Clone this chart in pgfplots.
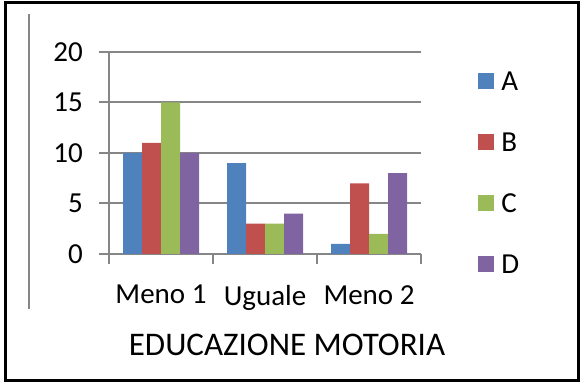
\documentclass[border=0pt]{standalone}
\usepackage{pgfplots}
\pgfplotsset{compat=1.18}
\usepackage{fontspec}
\setmainfont{Carlito}
\definecolor{cA}{RGB}{79,129,189}
\definecolor{cB}{RGB}{192,80,77}
\definecolor{cC}{RGB}{155,187,89}
\definecolor{cD}{RGB}{128,100,162}
\definecolor{axgray}{RGB}{134,134,134}
\begin{document}
\begin{tikzpicture}
\useasboundingbox (0,0) rectangle (584bp,388bp);
\draw[line width=3bp] (5bp,7bp) rectangle (578bp,385bp);
\draw[line width=2bp, color=axgray] (29bp,79bp) -- (29bp,374bp);
\begin{axis}[
  at={(109bp,134bp)}, anchor=south west,
  scale only axis, width=312bp, height=202bp,
  xmin=-0.5, xmax=2.5, ymin=0, ymax=20,
  ybar=0pt, bar width=19bp,
  axis lines=left,
  axis line style={-, draw=axgray, line width=2bp},
  ytick={0,5,10,15,20},
  ymajorgrids, grid style={line width=2bp, color=axgray},
  xtick={0,1,2}, xticklabels={Meno 1, Uguale, Meno 2},
  major x tick style={draw=none},
  minor xtick={-0.5,0.5,1.5,2.5},
  tick align=outside,
  major tick length=10bp, minor tick length=10bp,
  tick style={line width=2bp, color=axgray},
  /pgf/number format/assume math mode=true,
  ticklabel style={font=\fontsize{29bp}{31bp}\selectfont},
  yticklabel style={inner sep=0pt, xshift=-16bp},
  xticklabel style={inner sep=0pt, yshift=-21bp},
  xlabel={EDUCAZIONE MOTORIA},
  xlabel style={font=\fontsize{33bp}{35bp}\selectfont, xshift=22bp, yshift=-20bp},
  legend style={draw=none, fill=none, at={(1.183,0.901)}, anchor=north west,
    inner sep=0pt, font=\fontsize{29bp}{31bp}\selectfont, row sep=43bp,
    nodes={inner sep=0pt, text height=18bp, text depth=0bp},
    /tikz/column sep=7bp},
  legend image code/.code={\fill[#1] (0bp,-8bp) rectangle (16bp,8bp);},
  legend cell align=left,
]
\addplot[fill=cA, draw=none] coordinates {(0,10) (1,9) (2,1)};
\addplot[fill=cB, draw=none] coordinates {(0,11) (1,3) (2,7)};
\addplot[fill=cC, draw=none] coordinates {(0,15) (1,3) (2,2)};
\addplot[fill=cD, draw=none] coordinates {(0,10) (1,4) (2,8)};
\legend{A,B,C,D}
\end{axis}
\end{tikzpicture}
\end{document}
